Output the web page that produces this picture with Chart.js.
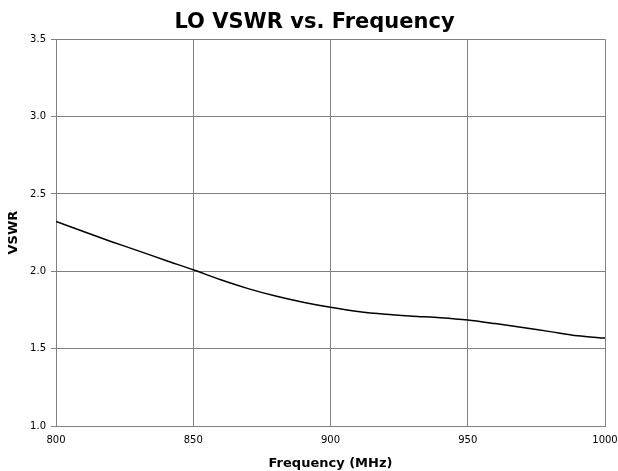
<!DOCTYPE html>
<html>
<head>
<meta charset="utf-8">
<script src="https://cdn.jsdelivr.net/npm/chart.js@4.4.0/dist/chart.umd.min.js"></script>
<style>
  html, body { margin: 0; padding: 0; background: #fff; }
  #wrap { width: 618px; height: 471px; }
</style>
</head>
<body>
<div id="wrap"><canvas id="vswrChart" width="618" height="471"></canvas></div>
<script>
// values
const freqs = [800, 810, 820, 830, 840, 850, 860, 870, 880, 890, 900, 910, 920, 930, 940, 950, 960, 970, 980, 990, 1000];
const vswr  = [2.322, 2.257, 2.193, 2.132, 2.07, 2.01, 1.945, 1.888, 1.84, 1.80, 1.767, 1.74, 1.722, 1.71, 1.70, 1.685, 1.662, 1.637, 1.61, 1.583, 1.568];
const xTicks = [800, 850, 900, 950, 1000];
const yTicks = [1.0, 1.5, 2.0, 2.5, 3.0, 3.5];

const points = freqs.map((f, i) => ({ x: f, y: vswr[i] }));

// the original title sits a bit right of the canvas centre
const shiftTitle = {
    id: 'shiftTitle',
    afterLayout(chart) {
        if (chart.titleBlock) {
            chart.titleBlock.left += 12;
            chart.titleBlock.right += 12;
        }
    }
};

const ctx = document.getElementById('vswrChart').getContext('2d');
new Chart(ctx, {
    type: 'line',
    data: {
        datasets: [{
            data: points,
            borderColor: '#000',
            borderWidth: 1.5,
            pointRadius: 0,
            tension: 0.3,
            fill: false
        }]
    },
    options: {
        responsive: false,
        animation: false,
        layout: { padding: { left: 0, right: 13, top: 0, bottom: 0 } },
        plugins: {
            legend: { display: false },
            tooltip: { enabled: false },
            title: {
                display: true,
                text: 'LO VSWR vs. Frequency',
                color: '#000',
                font: { family: 'DejaVu Sans', size: 21, weight: 'bold', lineHeight: 1.2 },
                padding: { top: 10, bottom: 4 }
            }
        },
        scales: {
            x: {
                type: 'linear',
                min: 800,
                max: 1000,
                afterBuildTicks: s => { s.ticks = xTicks.map(v => ({ value: v })); },
                afterFit: s => { s.height = 45; s.paddingLeft = 0; s.paddingRight = 0; },
                grid: { color: '#808080', lineWidth: 1, drawTicks: false },
                border: { color: '#808080' },
                ticks: {
                    color: '#000',
                    padding: 8,
                    maxRotation: 0,
                    font: { family: 'DejaVu Sans', size: 10 },
                    callback: v => String(v)
                },
                title: {
                    display: true,
                    text: 'Frequency (MHz)',
                    color: '#000',
                    font: { family: 'DejaVu Sans', size: 13, weight: 'bold' },
                    padding: { top: 5, bottom: 0 }
                }
            },
            y: {
                min: 1.0,
                max: 3.5,
                afterBuildTicks: s => { s.ticks = yTicks.map(v => ({ value: v })); },
                afterFit: s => { s.width = 56; },
                grid: { color: '#808080', lineWidth: 1, tickLength: 5 },
                border: { color: '#808080' },
                ticks: {
                    color: '#000',
                    padding: 5,
                    font: { family: 'DejaVu Sans', size: 10 },
                    callback: v => v.toFixed(1)
                },
                title: {
                    display: true,
                    text: 'VSWR',
                    color: '#000',
                    font: { family: 'DejaVu Sans', size: 13, weight: 'bold' },
                    padding: { top: 6, bottom: 4 }
                }
            }
        }
    },
    plugins: [shiftTitle]
});
</script>
</body>
</html>
